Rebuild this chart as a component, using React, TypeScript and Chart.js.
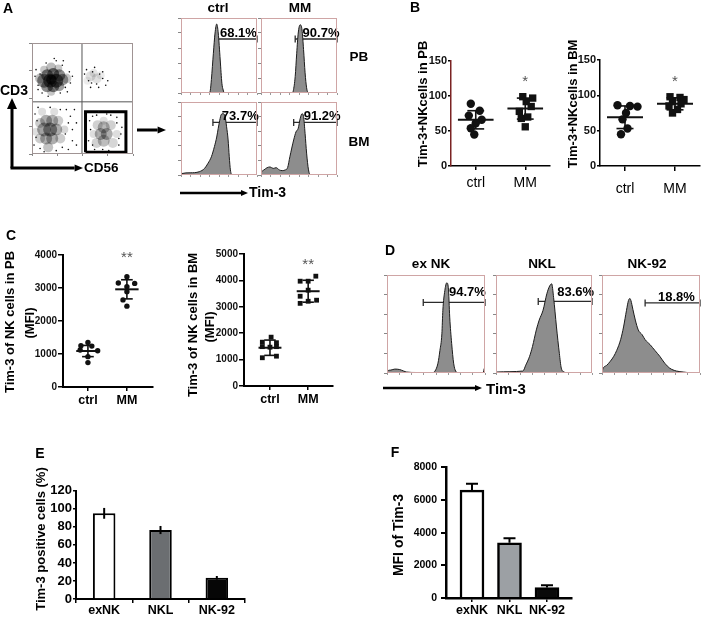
import React, { useEffect, useRef } from 'react';
import { Chart, registerables } from 'chart.js';

Chart.register(...registerables);

const FONT = "'Liberation Sans', Arial, Helvetica, sans-serif";
Chart.defaults.font.family = FONT;
Chart.defaults.color = '#000';

/* ================= DATA ================= */
// Panel A – CD3 x CD56 dot plot (density): [CD56 %, CD3 %, radius px, density]
const dotDensity: number[][] = [
  // CD3+ CD56- cluster (upper left, very dense)
  [12, 66, 7, 0.45], [18, 66, 7, 0.55], [24, 66, 7, 0.55], [30, 67, 6, 0.38], [15, 71, 6, 0.5], [21, 72, 6, 0.55],
  [27, 71, 6, 0.45], [15, 61, 6, 0.45], [21, 61, 6, 0.5], [27, 61, 5, 0.38], [19, 67, 5, 0.65], [8, 68, 5, 0.26],
  [34, 68, 5, 0.22], [19, 78, 5, 0.26], [12, 76, 4, 0.22], [26, 77, 4, 0.22], [19, 56, 4, 0.22],
  // CD3+ CD56+ (upper right, sparse)
  [58, 70, 5, 0.12], [64, 68, 5, 0.12], [61, 73, 4, 0.1], [68, 71, 4, 0.08], [55, 66, 4, 0.07],
  // CD3- CD56- (lower left)
  [12, 22, 7, 0.36], [18, 22, 7, 0.42], [24, 22, 6, 0.32], [14, 30, 6, 0.32], [20, 30, 6, 0.3], [14, 14, 6, 0.32],
  [20, 14, 6, 0.32], [26, 30, 5, 0.2], [8, 28, 5, 0.2], [8, 14, 5, 0.2], [28, 14, 5, 0.2], [16, 6, 5, 0.24],
  [22, 38, 4, 0.13], [10, 38, 4, 0.13], [32, 22, 4, 0.16], [4, 20, 4, 0.13],
  // CD3- CD56+ NK cells (gated)
  [68, 18, 6, 0.32], [74, 18, 6, 0.32], [71, 24, 6, 0.28], [71, 12, 6, 0.26], [65, 26, 5, 0.18], [78, 26, 5, 0.18],
  [64, 10, 5, 0.18], [80, 10, 5, 0.16], [71, 30, 4, 0.13], [84, 18, 4, 0.13], [61, 18, 4, 0.13],
];
const dotSpecks: number[][] = [
  [8, 72], [6, 62], [30, 80], [33, 60], [28, 55], [10, 55], [14, 82], [24, 84], [52, 72], [56, 66], [60, 74], [64, 63],
  [67, 72], [70, 68], [73, 62], [58, 60], [5, 30], [4, 15], [8, 5], [30, 6], [33, 18], [36, 28], [34, 40], [40, 22],
  [44, 8], [57, 30], [60, 8], [84, 28], [88, 18], [86, 8], [78, 35], [64, 35],
  [3, 70], [4, 76], [37, 74], [38, 64], [35, 56], [22, 86], [16, 52], [6, 58], [40, 70], [31, 84],
  [54, 76], [62, 78], [70, 74], [75, 66], [66, 60], [59, 64],
  [2, 8], [3, 36], [6, 42], [18, 42], [28, 40], [38, 34], [40, 12], [36, 4], [24, 3], [12, 2], [44, 28], [42, 40],
  [58, 22], [62, 4], [70, 4], [76, 3], [86, 14], [89, 24], [84, 33], [74, 36], [66, 38], [60, 34], [56, 12],
];
const quadCD56 = 49.5;
const quadCD3 = 47;
const gateCD56 = [53, 93];
const gateCD3 = [1.5, 38];

// Panel A – Tim-3 histograms: [Tim-3 %, count %]
const aPbCtrlHist = [[0, 0], [37, 0], [38.5, 3], [40, 18], [42.6, 53], [44.8, 80], [47, 92], [49, 80], [51.6, 44], [53.8, 13], [55.5, 4], [57, 0], [100, 0]];
const aPbMmHist = [[0, 0], [41, 0], [42.5, 3], [45, 22], [47, 53], [49, 80], [51.5, 91], [54, 84], [56, 58], [58, 27], [60, 7], [62.5, 0], [100, 0]];
const aBmCtrlHist = [[0, 0], [1, 2], [12, 3], [24, 4.5], [31, 9], [35.5, 16], [40, 25], [44, 39], [47, 52], [49, 64], [51, 75], [53, 83], [55.5, 84], [58, 80], [60, 66], [62, 48], [63.5, 25], [65, 7], [67.5, 0], [100, 0]];
const aBmMmHist = [[0, 0], [0.5, 3], [4, 7], [8, 10], [12, 11], [16, 9], [20, 10], [24, 7], [28, 6], [32, 7], [35, 10], [38, 25], [43, 48], [46, 59], [49, 64], [51.5, 77], [54, 84], [56, 80], [58, 57], [60, 30], [62.5, 7], [65, 0], [100, 0]];
const aGateStart = [45, 45, 42, 43];
const aGateLevel = [72, 72, 72, 72];
const aPercent = ['68.1%', '90.7%', '73.7%', '91.2%'];
const aPercentPos = [[75.5, 80], [79, 79], [78, 80], [80.5, 80]];

// Panel B – Tim-3+ NK cells (%)
const bCategories = ['ctrl', 'MM'];
const bPbCtrl = [89, 79, 72, 66, 61, 54, 45];
const bPbCtrlJitter = [-0.1, 0.08, -0.14, 0.12, 0, -0.1, -0.03];
const bPbMm = [99, 97, 92, 85, 78, 70, 68, 56];
const bPbMmJitter = [-0.05, 0.15, 0.02, 0.12, -0.12, 0.05, -0.08, 0.0];
const bPbMean = [66, 82];
const bPbSd = [13, 15];
const bBmCtrl = [86, 85, 84, 75, 66, 53, 45];
const bBmCtrlJitter = [-0.15, 0.1, 0.25, 0.02, -0.05, 0.05, -0.08];
const bBmMm = [98, 97, 94, 91, 88, 85, 80, 75];
const bBmMmJitter = [-0.1, 0.1, 0.18, -0.05, 0.12, -0.12, 0.05, -0.05];
const bBmMean = [69, 88];
const bBmSd = [16, 8.5];
const bStarY = [120, 119];

// Panel C – Tim-3 MFI of NK cells
const cCategories = ['ctrl', 'MM'];
const cPbCtrl = [1350, 1250, 1240, 1120, 1100, 920, 740];
const cPbCtrlJitter = [0, -0.18, 0.1, -0.2, 0.25, 0, 0];
const cPbMm = [3340, 3150, 3140, 3040, 2890, 2640, 2450];
const cPbMmJitter = [0, -0.22, 0.2, 0, 0, -0.1, 0];
const cPbMean = [1090, 2960];
const cPbSd = [170, 290];
const cBmCtrl = [1850, 1660, 1640, 1490, 1470, 1490, 1070, 1130];
const cBmCtrlJitter = [0.03, -0.2, 0.17, -0.2, 0, 0.17, -0.2, 0.17];
const cBmMm = [4160, 3970, 3970, 3630, 3400, 3250, 3130, 3210];
const cBmMmJitter = [0.2, -0.21, 0, 0, -0.21, 0.22, -0.21, 0];
const cBmMean = [1450, 3590];
const cBmSd = [290, 415];
const cStarY = [3900, 4600];

// Panel D – Tim-3 histograms of NK cell lines
const dExNkHist = [[0, 0], [0.5, 2], [4, 3], [8, 4], [13, 3.5], [17, 2], [20, 1], [30, 0.5], [47, 0.5], [49, 2], [52, 10], [54, 23], [56, 40], [57, 64], [59, 84], [61, 92], [62.6, 87], [64, 57], [66, 30], [68, 10], [70, 2], [73, 0], [98, 0], [99.5, 5], [100, 5]];
const dNklHist = [[0, 0], [1, 1], [28, 2], [31, 8], [35, 17], [38, 27], [42, 44], [45, 54], [49, 64], [53, 81], [56, 89], [58, 91], [60, 77], [63, 47], [66, 20], [68, 5], [71, 1], [73, 0], [100, 0]];
const dNk92Hist = [[0, 0], [0.5, 3], [5, 8], [8.5, 12], [12, 17], [15, 23], [19, 34], [22, 47], [25, 64], [27, 74], [28.5, 76], [29.5, 74], [31.5, 65], [34, 54], [37, 44], [41, 39], [44, 34], [49, 29], [54, 23], [59, 17], [64, 10], [69, 5], [76, 2], [83, 1], [93, 0], [100, 0]];
const dGateStart = [37, 44, 44];
const dGateLevel = [72, 73, 71.5];
const dPercent = ['94.7%', '83.6%', '18.8%'];
const dPercentPos = [[82, 82], [83, 82], [76, 77]];

// Panel E – Tim-3 positive cells (%)
const eCategories = ['exNK', 'NKL', 'NK-92'];
const eValues = [95, 76.5, 23.5];
const eErrors = [6, 4.5, 2];

// Panel F – MFI of Tim-3
const fCategories = ['exNK', 'NKL', 'NK-92'];
const fValues = [6600, 3380, 640];
const fErrors = [400, 270, 140];

/* ================= HELPERS ================= */
type Box = { l: number; t: number; r: number; b: number };
const plain = (v: any) => String(v);

const textPlugin = (items: any[]) => ({
  id: 'txt',
  afterDatasetsDraw(chart: any) {
    const { ctx, scales } = chart;
    ctx.save();
    items.forEach((it) => {
      ctx.font = it.font;
      ctx.fillStyle = it.color || '#000';
      ctx.textAlign = it.align || 'center';
      ctx.textBaseline = 'middle';
      ctx.fillText(it.text, scales.x.getPixelForValue(it.x), scales.y.getPixelForValue(it.y));
    });
    ctx.restore();
  },
});

const framePlugin = (color: string, width: number) => ({
  id: 'frame',
  afterDraw(chart: any) {
    const { ctx, chartArea: a } = chart;
    ctx.save();
    ctx.strokeStyle = color;
    ctx.lineWidth = width;
    ctx.strokeRect(a.left + 0.5, a.top + 0.5, a.right - a.left - 1, a.bottom - a.top - 1);
    ctx.restore();
  },
});

const errorBarPlugin = (errors: number[], both: boolean, capHalf: number, lw: number) => ({
  id: 'errbars',
  afterDatasetsDraw(chart: any) {
    const { ctx } = chart;
    const ys = chart.scales.y;
    const meta = chart.getDatasetMeta(0);
    const data = chart.data.datasets[0].data;
    ctx.save();
    ctx.strokeStyle = '#000';
    ctx.lineWidth = lw;
    meta.data.forEach((bar: any, i: number) => {
      const v = typeof data[i] === 'number' ? data[i] : data[i].y;
      const top = ys.getPixelForValue(v + errors[i]);
      const bot = ys.getPixelForValue(both ? v - errors[i] : v);
      ctx.beginPath();
      ctx.moveTo(bar.x, top);
      ctx.lineTo(bar.x, bot);
      if (capHalf > 0) {
        ctx.moveTo(bar.x - capHalf, top);
        ctx.lineTo(bar.x + capHalf, top);
      }
      ctx.stroke();
    });
    ctx.restore();
  },
});

function ChartCanvas({ area, yW, xH, pad, make }: { area: Box; yW: number; xH: number; pad: Box; make: () => any }) {
  const ref = useRef<HTMLCanvasElement | null>(null);
  const left = area.l - yW - pad.l;
  const top = area.t - pad.t;
  const width = area.r + pad.r - left;
  const height = area.b + xH + pad.b - top;
  useEffect(() => {
    if (!ref.current) return;
    const cfg = make();
    cfg.options = cfg.options || {};
    cfg.options.responsive = false;
    cfg.options.maintainAspectRatio = false;
    cfg.options.animation = false;
    cfg.options.devicePixelRatio = 1;
    cfg.options.events = [];
    cfg.options.layout = { autoPadding: false, padding: { left: pad.l, top: pad.t, right: pad.r, bottom: pad.b } };
    cfg.options.scales.x.afterFit = (s: any) => { s.height = xH; };
    cfg.options.scales.y.afterFit = (s: any) => { s.width = yW; };
    cfg.options.plugins = { legend: { display: false }, tooltip: { enabled: false } };
    const chart = new Chart(ref.current, cfg);
    return () => chart.destroy();
  }, []);
  return <canvas ref={ref} width={width} height={height} style={{ position: 'absolute', left, top, width, height }} />;
}

function histConfig(points: number[][], gateStart: number, gateY: number, label: string, pos: number[]) {
  return {
    type: 'line',
    data: {
      datasets: [
        { data: points.map((p) => ({ x: p[0], y: p[1] })), fill: 'origin', backgroundColor: '#8d8d8d', borderColor: '#1c1c1c', borderWidth: 1, pointRadius: 0, cubicInterpolationMode: 'monotone' },
        { data: [{ x: gateStart, y: gateY }, { x: 100, y: gateY }], fill: false, borderColor: '#2b2b2b', borderWidth: 1.3, pointStyle: 'line', rotation: 90, pointRadius: 3.5, pointBorderColor: '#2b2b2b', pointBorderWidth: 1.3, clip: 6 },
      ],
    },
    options: {
      scales: {
        x: { type: 'linear', min: 0, max: 100, ticks: { display: false, stepSize: 12.5 }, grid: { drawOnChartArea: false, tickLength: 2, color: '#999' }, border: { display: false } },
        y: { type: 'linear', min: 0, max: 100, ticks: { display: false, stepSize: 20 }, grid: { drawOnChartArea: false, tickLength: 3, color: '#888' }, border: { display: false } },
      },
    },
    plugins: [framePlugin('#cfa5a5', 1), textPlugin([{ x: pos[0], y: pos[1], text: label, font: `bold 13px ${FONT}` }])],
  };
}

function groupDatasets(x: number, values: number[], jitter: number[], mean: number, sd: number, style: string, r: number, meanHalf: number, capHalf: number) {
  const ink = '#111';
  const line = (data: any[], w: number) => ({ data, showLine: true, borderColor: ink, borderWidth: w, pointRadius: 0 });
  return [
    { data: values.map((v, i) => ({ x: x + jitter[i], y: v })), pointStyle: style, pointRadius: r, backgroundColor: ink, borderColor: ink, borderWidth: 0 },
    line([{ x: x - meanHalf, y: mean }, { x: x + meanHalf, y: mean }], 2),
    line([{ x, y: mean - sd }, { x, y: mean + sd }], 1.6),
    line([{ x: x - capHalf, y: mean + sd }, { x: x + capHalf, y: mean + sd }], 1.6),
    line([{ x: x - capHalf, y: mean - sd }, { x: x + capHalf, y: mean - sd }], 1.6),
  ];
}

function dotConfig(p: any) {
  return {
    type: 'scatter',
    data: {
      datasets: [
        ...groupDatasets(1, p.ctrl, p.ctrlJ, p.mean[0], p.sd[0], p.ctrlStyle, p.r, p.meanHalf, p.capHalf),
        ...groupDatasets(2, p.mm, p.mmJ, p.mean[1], p.sd[1], p.mmStyle, p.rMm, p.meanHalf, p.capHalf),
      ],
    },
    options: {
      scales: {
        x: {
          type: 'linear', min: p.xMin, max: p.xMax,
          afterBuildTicks: (s: any) => { s.ticks = [{ value: 1 }, { value: 2 }]; },
          ticks: { callback: (v: any) => p.cats[v - 1] ?? '', font: p.catFont, padding: p.xPad, color: '#000', maxRotation: 0, autoSkip: false },
          grid: { drawOnChartArea: false, tickLength: p.xTick, color: '#000', lineWidth: 1.5 },
          border: { color: '#000', width: p.axisW },
        },
        y: {
          type: 'linear', min: 0, max: p.yMax,
          ticks: { stepSize: p.yStep, font: p.tickFont, padding: p.yPad, color: '#111', autoSkip: false, callback: plain },
          grid: { drawOnChartArea: false, tickLength: p.yTick, color: '#000', lineWidth: 1.5 },
          border: { color: p.yColor || '#000', width: p.axisW },
        },
      },
    },
    plugins: [textPlugin([{ x: 2, y: p.starY, text: p.star, font: `15px ${FONT}`, color: '#555' }])],
  };
}

function dotPlotConfig() {
  return {
    type: 'scatter',
    data: {
      datasets: [
        { type: 'bubble', data: dotDensity.map((d) => ({ x: d[0], y: d[1], r: d[2] })), backgroundColor: dotDensity.map((d) => `rgba(0,0,0,${d[3]})`), borderWidth: 0, clip: 0 },
        { data: dotSpecks.map((d) => ({ x: d[0], y: d[1] })), pointRadius: 0.8, backgroundColor: '#111', borderWidth: 0 },
        { data: [{ x: quadCD56, y: 0 }, { x: quadCD56, y: 100 }], showLine: true, borderColor: '#555', borderWidth: 1, pointRadius: 0 },
        { data: [{ x: 0, y: quadCD3 }, { x: 100, y: quadCD3 }], showLine: true, borderColor: '#555', borderWidth: 1, pointRadius: 0 },
        {
          data: [
            { x: gateCD56[0], y: gateCD3[0] }, { x: gateCD56[1], y: gateCD3[0] }, { x: gateCD56[1], y: gateCD3[1] },
            { x: gateCD56[0], y: gateCD3[1] }, { x: gateCD56[0], y: gateCD3[0] },
          ],
          showLine: true, borderColor: '#000', borderWidth: 3, pointRadius: 0, borderJoinStyle: 'miter', clip: 4,
        },
      ],
    },
    options: {
      scales: {
        x: { type: 'linear', min: 0, max: 100, ticks: { display: false, stepSize: 25 }, grid: { drawOnChartArea: false, tickLength: 2, color: '#888' }, border: { display: false } },
        y: { type: 'linear', min: 0, max: 100, ticks: { display: false, stepSize: 25 }, grid: { drawOnChartArea: false, tickLength: 3, color: '#888' }, border: { display: false } },
      },
    },
    plugins: [framePlugin('#a09494', 1)],
  };
}

function barConfigE() {
  return {
    type: 'bar',
    data: {
      labels: eCategories,
      datasets: [{ data: eValues, backgroundColor: ['#ffffff', '#6b6e71', '#060606'], borderColor: '#000', borderWidth: 2, barPercentage: 0.4, categoryPercentage: 1 }],
    },
    options: {
      scales: {
        x: { ticks: { font: { size: 12.5, weight: 'bold' }, padding: 0, color: '#000', autoSkip: false, maxRotation: 0 }, grid: { offset: true, drawOnChartArea: false, tickLength: 4, color: '#000', lineWidth: 1.5 }, border: { color: '#000', width: 2 } },
        y: { min: 0, max: 120, ticks: { stepSize: 20, font: { size: 13, weight: 'bold' }, padding: 1, color: '#000', autoSkip: false, callback: plain }, grid: { drawOnChartArea: false, tickLength: 3, color: '#000', lineWidth: 1.5 }, border: { color: '#000', width: 2 } },
      },
    },
    plugins: [errorBarPlugin(eErrors, true, 0, 2)],
  };
}

function barConfigF() {
  return {
    type: 'bar',
    data: {
      datasets: [{ data: fValues.map((v, i) => ({ x: i + 1, y: v })), backgroundColor: ['#ffffff', '#9ca0a4', '#0a0a0a'], borderColor: '#000', borderWidth: 2.5, barThickness: 24 }],
    },
    options: {
      scales: {
        x: {
          type: 'linear', min: 0.307, max: 3.667, offset: false,
          afterBuildTicks: (s: any) => { s.ticks = [{ value: 1 }, { value: 2 }, { value: 3 }]; },
          ticks: { callback: (v: any) => fCategories[v - 1] ?? '', font: { size: 12.5, weight: 'bold' }, padding: 1, color: '#000', maxRotation: 0, autoSkip: false },
          grid: { offset: false, drawOnChartArea: false, tickLength: 4, color: '#000', lineWidth: 1.5 }, border: { color: '#000', width: 2.5 },
        },
        y: { min: 0, max: 8000, ticks: { stepSize: 2000, font: { size: 10.5, weight: 'bold' }, padding: 4, color: '#000', autoSkip: false, callback: plain }, grid: { drawOnChartArea: false, tickLength: 5, color: '#000', lineWidth: 2 }, border: { color: '#000', width: 2.5 } },
      },
    },
    plugins: [errorBarPlugin(fErrors, false, 6, 2)],
  };
}

/* ================= TEXT & ARROWS ================= */
function T({ x, y, s, children, bold = true, rot = 0, align = 'center', color = '#000' }: any) {
  const tx = align === 'left' ? '0' : '-50%';
  return (
    <div style={{ position: 'absolute', left: x, top: y, transform: `translate(${tx},-50%) rotate(${rot}deg)`, fontSize: s, fontWeight: bold ? 'bold' : 'normal', whiteSpace: 'nowrap', lineHeight: 1, color, fontFamily: FONT }}>
      {children}
    </div>
  );
}

function Arrow({ x1, y1, x2, y2, w = 3, head = 7 }: any) {
  const ang = Math.atan2(y2 - y1, x2 - x1);
  const bx = x2 - Math.cos(ang) * head * 1.4;
  const by = y2 - Math.sin(ang) * head * 1.4;
  const px = -Math.sin(ang) * head * 0.6;
  const py = Math.cos(ang) * head * 0.6;
  return (
    <g>
      <line x1={x1} y1={y1} x2={bx} y2={by} stroke="#000" strokeWidth={w} />
      <polygon points={`${x2},${y2} ${bx + px},${by + py} ${bx - px},${by - py}`} fill="#000" />
    </g>
  );
}

const hPad = { l: 1, t: 4, r: 8, b: 1 };

export default function App() {
  const aBoxes: Box[] = [
    { l: 181, t: 18, r: 257, b: 93 },
    { l: 261, t: 18, r: 337, b: 93 },
    { l: 181, t: 102, r: 257, b: 175 },
    { l: 261, t: 102, r: 337, b: 175 },
  ];
  const aHists = [aPbCtrlHist, aPbMmHist, aBmCtrlHist, aBmMmHist];
  const dBoxes: Box[] = [
    { l: 387, t: 275, r: 485, b: 373 },
    { l: 496, t: 275, r: 592, b: 373 },
    { l: 602, t: 275, r: 700, b: 373 },
  ];
  const dHists = [dExNkHist, dNklHist, dNk92Hist];

  return (
    <div style={{ position: 'absolute', left: 0, top: 0, width: 703, height: 621, background: '#fff', overflow: 'hidden', fontFamily: FONT }}>
      {/* Panel A */}
      <ChartCanvas area={{ l: 32, t: 43, r: 133, b: 154 }} yW={4} xH={4} pad={{ l: 2, t: 4, r: 4, b: 2 }} make={dotPlotConfig} />
      {aBoxes.map((bx, i) => (
        <ChartCanvas key={'a' + i} area={bx} yW={4} xH={3} pad={hPad} make={() => histConfig(aHists[i], aGateStart[i], aGateLevel[i], aPercent[i], aPercentPos[i])} />
      ))}

      {/* Panel B */}
      <ChartCanvas
        area={{ l: 451, t: 61, r: 550, b: 166 }} yW={44} xH={30} pad={{ l: 2, t: 9, r: 6, b: 2 }}
        make={() => dotConfig({
          cats: bCategories, ctrl: bPbCtrl, ctrlJ: bPbCtrlJitter, mm: bPbMm, mmJ: bPbMmJitter, mean: bPbMean, sd: bPbSd,
          ctrlStyle: 'circle', mmStyle: 'rect', r: 4.2, rMm: 5.2, meanHalf: 0.36, capHalf: 0.17,
          xMin: 0.5, xMax: 2.5, yMax: 150, yStep: 50, tickFont: { size: 11, weight: 'bold' }, catFont: { size: 14 },
          xPad: 5, xTick: 4, yPad: 1, yTick: 3, axisW: 1.5, yColor: '#7a2323', star: '*', starY: bStarY[0],
        })}
      />
      <ChartCanvas
        area={{ l: 600, t: 60, r: 700, b: 166 }} yW={44} xH={32} pad={{ l: 2, t: 9, r: 2, b: 2 }}
        make={() => dotConfig({
          cats: bCategories, ctrl: bBmCtrl, ctrlJ: bBmCtrlJitter, mm: bBmMm, mmJ: bBmMmJitter, mean: bBmMean, sd: bBmSd,
          ctrlStyle: 'circle', mmStyle: 'rect', r: 4.2, rMm: 5.2, meanHalf: 0.36, capHalf: 0.17,
          xMin: 0.5, xMax: 2.5, yMax: 150, yStep: 50, tickFont: { size: 11, weight: 'bold' }, catFont: { size: 14 },
          xPad: 10, xTick: 5, yPad: 1, yTick: 3, axisW: 1.5, star: '*', starY: bStarY[1],
        })}
      />

      {/* Panel C */}
      <ChartCanvas
        area={{ l: 63, t: 255, r: 153, b: 387 }} yW={40} xH={22} pad={{ l: 2, t: 8, r: 6, b: 2 }}
        make={() => dotConfig({
          cats: cCategories, ctrl: cPbCtrl, ctrlJ: cPbCtrlJitter, mm: cPbMm, mmJ: cPbMmJitter, mean: cPbMean, sd: cPbSd,
          ctrlStyle: 'circle', mmStyle: 'circle', r: 2.7, rMm: 2.7, meanHalf: 0.3, capHalf: 0.15,
          xMin: 0.36, xMax: 2.67, yMax: 4000, yStep: 1000, tickFont: { size: 10, weight: 'bold' }, catFont: { size: 12.5, weight: 'bold' },
          xPad: 2, xTick: 4, yPad: 1, yTick: 5, axisW: 2, star: '**', starY: cStarY[0],
        })}
      />
      <ChartCanvas
        area={{ l: 244, t: 254, r: 333, b: 386 }} yW={40} xH={22} pad={{ l: 2, t: 8, r: 6, b: 2 }}
        make={() => dotConfig({
          cats: cCategories, ctrl: cBmCtrl, ctrlJ: cBmCtrlJitter, mm: cBmMm, mmJ: cBmMmJitter, mean: cBmMean, sd: cBmSd,
          ctrlStyle: 'rect', mmStyle: 'rect', r: 3.4, rMm: 3.4, meanHalf: 0.3, capHalf: 0.15,
          xMin: 0.32, xMax: 2.65, yMax: 5000, yStep: 1000, tickFont: { size: 10, weight: 'bold' }, catFont: { size: 12.5, weight: 'bold' },
          xPad: 2, xTick: 4, yPad: 1, yTick: 5, axisW: 2, star: '**', starY: cStarY[1],
        })}
      />

      {/* Panel D */}
      {dBoxes.map((bx, i) => (
        <ChartCanvas key={'d' + i} area={bx} yW={4} xH={3} pad={hPad} make={() => histConfig(dHists[i], dGateStart[i], dGateLevel[i], dPercent[i], dPercentPos[i])} />
      ))}

      {/* Panel E */}
      <ChartCanvas area={{ l: 76, t: 490, r: 245, b: 599 }} yW={40} xH={20} pad={{ l: 2, t: 8, r: 6, b: 1 }} make={barConfigE} />

      {/* Panel F */}
      <ChartCanvas area={{ l: 446, t: 465, r: 572, b: 598 }} yW={40} xH={20} pad={{ l: 2, t: 8, r: 6, b: 2 }} make={barConfigF} />

      {/* arrows */}
      <svg width={703} height={621} style={{ position: 'absolute', left: 0, top: 0, pointerEvents: 'none' }}>
        <line x1={12} y1={168} x2={12} y2={106} stroke="#000" strokeWidth={3} />
        <polygon points="12,98 7,109 17,109" fill="#000" />
        <Arrow x1={10.5} y1={168} x2={83} y2={168} w={3} head={6} />
        <Arrow x1={137} y1={130} x2={166} y2={130} w={3} head={6} />
        <Arrow x1={180} y1={193} x2={248} y2={193} w={2.5} head={5} />
        <Arrow x1={383} y1={388} x2={482} y2={388} w={2.5} head={5} />
      </svg>

      {/* panel letters */}
      <T x={8} y={8} s={14}>A</T>
      <T x={415} y={7} s={14}>B</T>
      <T x={11} y={235} s={14}>C</T>
      <T x={390} y={250} s={14}>D</T>
      <T x={40} y={453} s={14}>E</T>
      <T x={395} y={452} s={14}>F</T>

      {/* panel A texts */}
      <T x={218} y={8} s={13.5}>ctrl</T>
      <T x={300} y={8} s={13.5}>MM</T>
      <T x={359} y={57} s={13.5}>PB</T>
      <T x={359} y={142} s={13.5}>BM</T>
      <T x={14} y={90} s={14}>CD3</T>
      <T x={84} y={168} s={13.5} align="left">CD56</T>
      <T x={249} y={192} s={14} align="left">Tim-3</T>

      {/* panel B titles */}
      <T x={422} y={104} s={13} rot={-90}>Tim-3+NKcells in PB</T>
      <T x={572} y={104} s={13} rot={-90}>Tim-3+NKcells in BM</T>

      {/* panel C titles */}
      <T x={9} y={322} s={13} rot={-90}>Tim-3 of NK cells in PB</T>
      <T x={29} y={323} s={13} rot={-90}>(MFI)</T>
      <T x={192} y={325} s={13} rot={-90}>Tim-3 of NK cells in BM</T>
      <T x={209} y={327} s={13} rot={-90}>(MFI)</T>

      {/* panel D texts */}
      <T x={431} y={264} s={13.5}>ex NK</T>
      <T x={542} y={264} s={13.5}>NKL</T>
      <T x={647} y={264} s={13.5}>NK-92</T>
      <T x={486} y={388} s={15} align="left">Tim-3</T>

      {/* panel E/F titles */}
      <T x={40} y={539} s={13} rot={-90}>Tim-3 positive cells (%)</T>
      <T x={398} y={535} s={14} rot={-90}>MFI of Tim-3</T>
    </div>
  );
}
